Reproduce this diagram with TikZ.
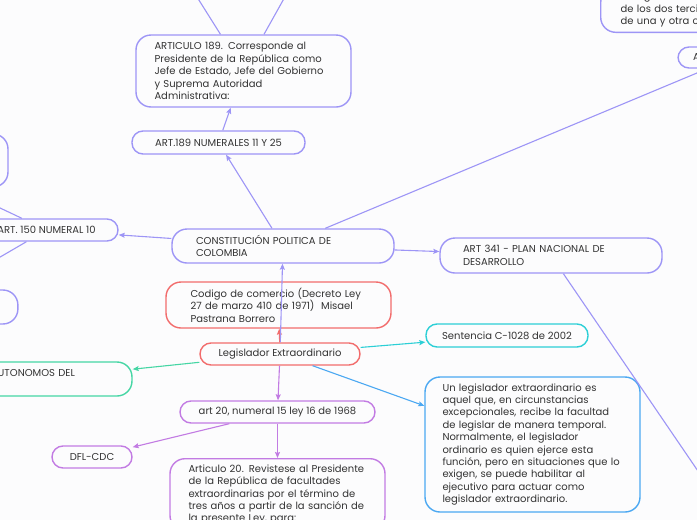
\documentclass[tikz,border=0pt]{standalone}
\usepackage{fontspec}
\setmainfont{Poppins}
\usepackage{xcolor}
\usetikzlibrary{arrows.meta}
\definecolor{fondo}{HTML}{FCFCFD}
\definecolor{texto}{HTML}{333333}
\definecolor{lila}{HTML}{9D95F6}
\definecolor{rojo}{HTML}{F26C6C}
\definecolor{turquesa}{HTML}{2CCFD6}
\definecolor{verde}{HTML}{45D6A4}
\definecolor{azul}{HTML}{4BA8F2}
\definecolor{violeta}{HTML}{C27BE3}

\begin{document}
\begin{tikzpicture}[x=1pt,y=-1pt,
    caja/.style={draw,line width=1.4pt,rounded corners=11pt,fill=fondo,text=texto,
      font=\fontsize{10}{12.4}\selectfont,inner ysep=5pt},
    flecha/.style={-{Stealth[length=6pt,width=5pt,inset=1pt]},line width=1.1pt}]
    \useasboundingbox (0,0) rectangle (697,520);
    \clip (0,0) rectangle (697,520);
    \fill[fondo] (0,0) rectangle (697,520);

    \coordinate (hijo1) at (180,-30);
    \coordinate (hijo2) at (300,-30);
    \coordinate (hijo341) at (730,518);

    \node[caja,draw=lila,minimum width=215pt,minimum height=72pt,text width=178pt,align=left,rounded corners=15pt] (art189) at (243.5,71) {ARTICULO 189. Corresponde al\\Presidente de la República como\\Jefe de Estado, Jefe del Gobierno\\y Suprema Autoridad\\Administrativa:};
    \node[caja,draw=lila,minimum width=173pt,minimum height=23pt] (num189) at (218.5,142.5) {ART.189 NUMERALES 11 Y 25};
    \node[caja,draw=lila,minimum width=222pt,minimum height=34pt,text width=174pt,align=left,rounded corners=15pt] (cpc) at (283,246) {CONSTITUCIÓN POLITICA DE\\COLOMBIA};
    \node[caja,draw=lila,minimum width=143pt,minimum height=22pt] (art150) at (46.5,230) {ART. 150 NUMERAL 10};
    \node[caja,draw=lila,minimum width=216pt,minimum height=53pt,rounded corners=15pt] (izq1) at (-100,160.5) {};
    \node[caja,draw=lila,minimum width=207pt,minimum height=34pt,rounded corners=15pt] (izq2) at (-85.6,307) {};
    \node[caja,draw=lila,minimum width=222pt,minimum height=35pt,text width=176pt,align=left,rounded corners=15pt] (art341) at (551,255.5) {ART 341 - PLAN NACIONAL DE\\DESARROLLO};
    \node[caja,draw=lila,minimum width=180pt,text width=140pt,align=left,anchor=south west,rounded corners=15pt] (deroga) at (600,33) {derogarlos con\\de los dos tercios\\de una y otra cámara};
    \node[caja,draw=lila,minimum width=112pt,minimum height=21pt,text width=82pt,align=left] (arriba) at (734,57.5) {ART.};

    \node[caja,draw=rojo,minimum width=225pt,minimum height=46pt,text width=176pt,align=left,rounded corners=15pt] (codigo) at (278.5,305) {Codigo de comercio (Decreto Ley\\27 de marzo 410 de 1971)~ Misael\\Pastrana Borrero};
    \node[caja,draw=rojo,minimum width=160pt,minimum height=22pt] (legis) at (280,354) {Legislador Extraordinario};
    \node[caja,draw=turquesa,minimum width=162pt,minimum height=23pt] (sentencia) at (507,335.5) {Sentencia C-1028 de 2002};
    \node[caja,draw=verde,minimum width=190pt,minimum height=34pt,text width=92pt,align=left,rounded corners=15pt] (autonomos) at (37,379) {AUTONOMOS DEL\\~};
    \node[caja,draw=azul,minimum width=215pt,minimum height=135pt,text width=180pt,align=left,rounded corners=15pt] (definicion) at (532.5,444.5) {Un legislador extraordinario es\\aquel que, en circunstancias\\excepcionales, recibe la facultad\\de legislar de manera temporal.\\Normalmente, el legislador\\ordinario es quien ejerce esta\\función, pero en situaciones que lo\\exigen, se puede habilitar al\\ejecutivo para actuar como\\legislador extraordinario.};
    \node[caja,draw=violeta,minimum width=195pt,minimum height=22pt] (art20) at (277.5,412) {art 20, numeral 15 ley 16 de 1968};
    \node[caja,draw=violeta,minimum width=80pt,minimum height=22pt] (dfl) at (92,457) {DFL-CDC};
    \node[caja,draw=violeta,minimum width=215pt,text width=178pt,align=left,anchor=north,inner ysep=6pt,rounded corners=15pt] (articulo20) at (277.5,458) {Articulo 20. Revistese al Presidente\\de la República de facultades\\extraordinarias por el término de\\tres años a partir de la sanción de\\la presente Ley, para:};

    \draw[flecha,lila] (art189) -- (hijo1);
    \draw[flecha,lila] (art189) -- (hijo2);
    \draw[flecha,lila] (num189) -- (art189);
    \draw[flecha,lila] (cpc) -- (num189);
    \draw[flecha,lila] (cpc) -- (art150);
    \draw[flecha,lila] (art150) -- (izq1);
    \draw[flecha,lila] (art150) -- (izq2);
    \draw[flecha,lila] (cpc) -- (arriba);
    \draw[flecha,lila] (cpc) -- (art341);
    \draw[flecha,lila] (art341) -- (hijo341);
    \draw[flecha,rojo] (legis) -- (codigo);
    \draw[flecha,lila] (legis) -- (cpc);
    \draw[flecha,turquesa] (legis) -- (sentencia);
    \draw[flecha,verde] (legis) -- (autonomos);
    \draw[flecha,azul] (legis) -- (definicion);
    \draw[flecha,violeta] (legis) -- (art20);
    \draw[flecha,violeta] (art20) -- (dfl);
    \draw[flecha,violeta] (art20) -- (articulo20);
\end{tikzpicture}
\end{document}
